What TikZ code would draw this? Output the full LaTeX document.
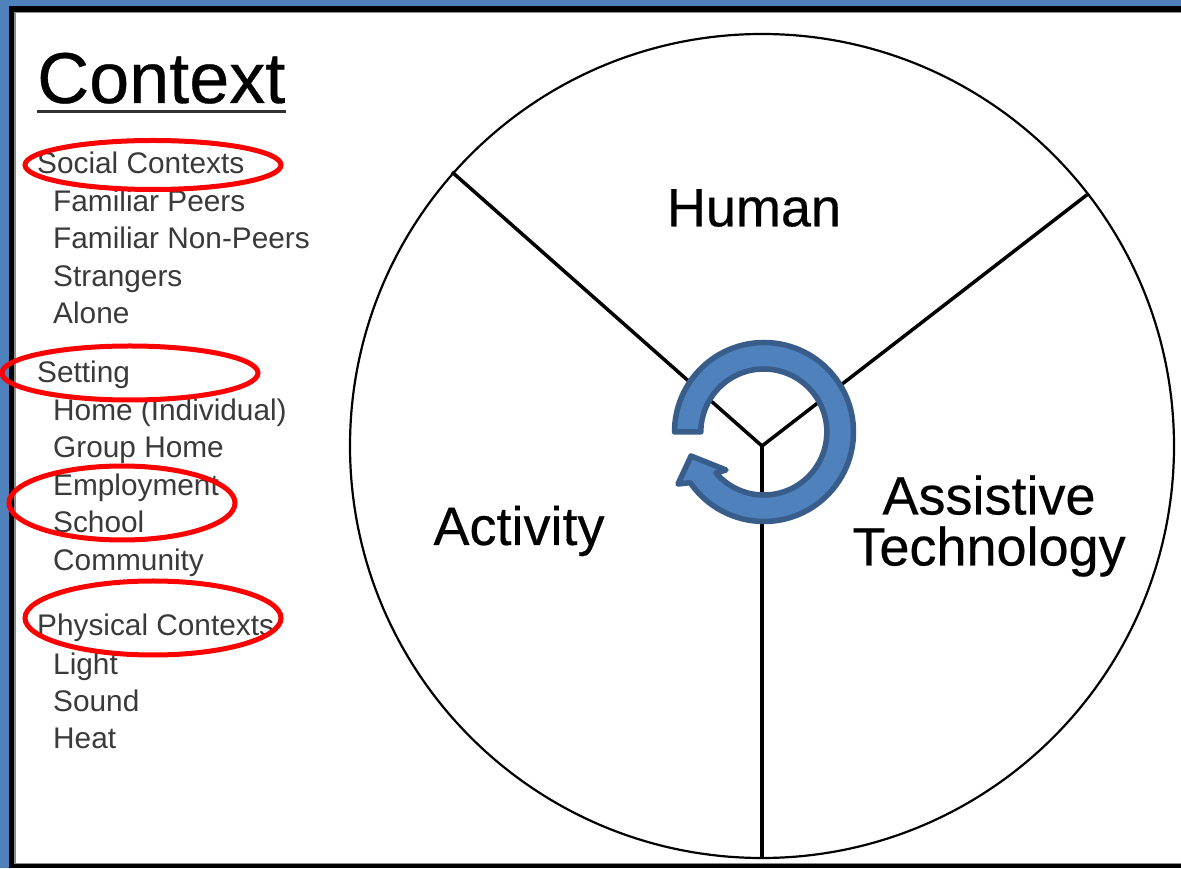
\documentclass[tikz,border=0pt]{standalone}
\usepackage{fontspec}
\setmainfont{Liberation Sans}
\newfontfamily\heavy[FakeBold=0.4]{Liberation Sans}
\definecolor{ablue}{HTML}{4F81BD}
\definecolor{adark}{HTML}{385D8A}
\definecolor{lgray}{HTML}{3A3A3A}
\tikzset{
  x=1pt,y=1pt,
  spoke/.style={draw=black,line width=3.5pt},
  rim/.style={draw=black,line width=2.2pt},
  item/.style={anchor=base west,inner sep=0pt,text=lgray,font=\fontsize{29.8}{29.8}\selectfont},
  big/.style={inner sep=0pt,text=black,font=\heavy\fontsize{54}{51}\selectfont,align=center},
  ring/.style={draw=red,line width=5pt},
  cyc/.style={fill=ablue,draw=adark,line width=5.5pt,line join=round}
}
\begin{document}
\begin{tikzpicture}
\useasboundingbox (0,0) rectangle (1181,868);
\fill[white] (0,0) rectangle (1181,868);
\fill[ablue] (0,0) rectangle (9,868);
\fill[ablue] (0,862) rectangle (1181,868);
\draw[black!45,line width=1.5pt] (14.8,5) -- (14.8,855.8) -- (1181,855.8);
\draw[black!45,line width=1.5pt] (14,4.6) -- (1181,4.6);
\draw[black,line width=5.5pt] (11.7,0) -- (11.7,859) -- (1181,859);
\draw[black,line width=4pt] (9,2) -- (1181,2);

\coordinate (c) at (762,422);
\node[circle,rim,minimum size=824pt,inner sep=0pt] (wheel) at (c) {};
\coordinate (a) at (452,696);
\coordinate (b) at (1088,674);
\coordinate (d) at (762,10);
\draw[spoke] (c) -- (a);
\draw[spoke] (c) -- (b);
\draw[spoke] (c) -- (d);

\node[big] (human) at (754,660) {Human};
\node[big] (activity) at (519,337) {Activity};
\node[big] (at) at (989,342) {Assistive\\Technology};

\node[anchor=base west,inner sep=0pt,font=\heavy\fontsize{72}{72}\selectfont] (ctx) at (37,765) {Context};
\draw[line width=3pt,draw=black!80] (ctx.west |- 0,756) -- (ctx.east |- 0,756);

\node[item] (n1) at (37,694) {Social Contexts};
\node[item] (n2) at (53,656) {Familiar Peers};
\node[item] (n3) at (53,619) {Familiar Non-Peers};
\node[item] (n4) at (53,581) {Strangers};
\node[item] (n5) at (53,544) {Alone};
\node[item] (n6) at (37,485) {Setting};
\node[item] (n7) at (53,447) {Home (Individual)};
\node[item] (n8) at (53,410) {Group Home};
\node[item] (n9) at (53,372) {Employment};
\node[item] (n10) at (53,335) {School};
\node[item] (n11) at (53,297) {Community};
\node[item] (n12) at (37,232) {Physical Contexts};
\node[item] (n13) at (53,193) {Light};
\node[item] (n14) at (53,156) {Sound};
\node[item] (n15) at (53,119) {Heat};

\draw[ring] (153,703) ellipse [x radius=128,y radius=24.5];
\draw[ring] (130,495) ellipse [x radius=128,y radius=27];
\draw[ring] (122,365) ellipse [x radius=113,y radius=37];
\draw[ring] (153,250) ellipse [x radius=128,y radius=37];

\coordinate (rc) at (764,436);
\path[cyc] ([shift={(180:89.5)}]rc) arc[start angle=180,end angle=-145.5,radius=89.5]
  -- (678,384) -- (691,412) -- (726,398) -- (716,395)
  arc[start angle=-139.4,end angle=180,radius=63] -- cycle;
\end{tikzpicture}
\end{document}
